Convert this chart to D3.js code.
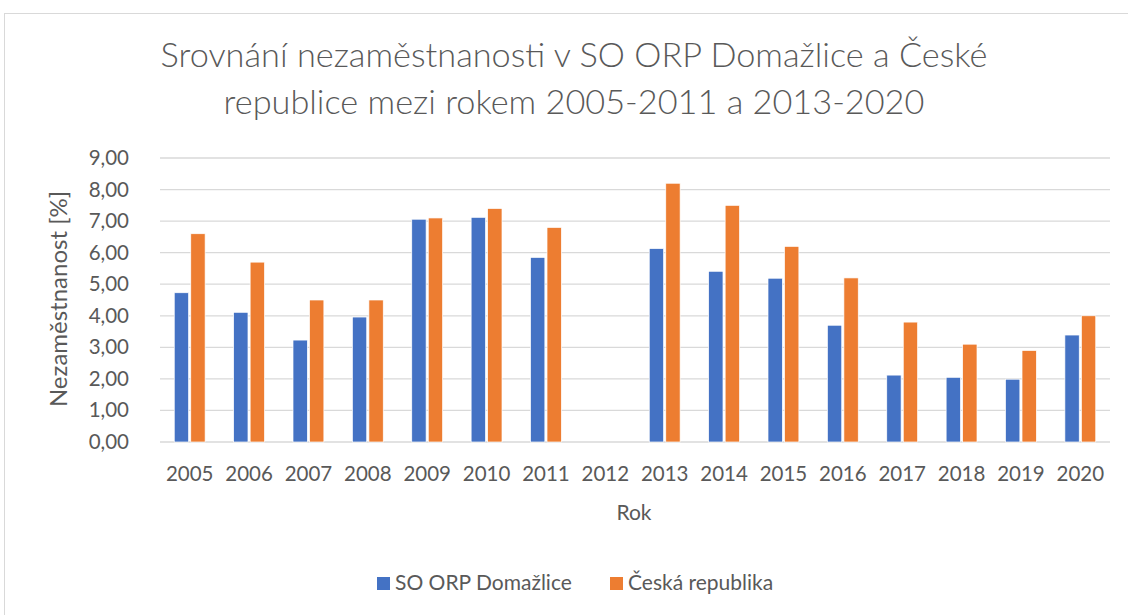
<!DOCTYPE html>
<html>
<head>
<meta charset="utf-8">
<script src="https://cdn.jsdelivr.net/npm/d3@7"></script>
<style>
  body { margin: 0; background: #fff; }
  svg { font-family: Lato, "Open Sans", sans-serif; }
</style>
</head>
<body>
<svg width="1128" height="615"></svg>
<script>
const years = ["2005","2006","2007","2008","2009","2010","2011","2012","2013","2014","2015","2016","2017","2018","2019","2020"];
const domazlice = [4.73, 4.11, 3.23, 3.96, 7.06, 7.12, 5.85, null, 6.13, 5.41, 5.19, 3.70, 2.12, 2.05, 1.99, 3.39];
const cr = [6.6, 5.7, 4.5, 4.5, 7.1, 7.4, 6.8, null, 8.2, 7.5, 6.2, 5.2, 3.8, 3.1, 2.9, 4.0];
const seriesNames = ["SO ORP Domažlice", "Česká republika"];
const colors = ["#4472C4", "#ED7D31"];
const yTicks = d3.range(0, 10);

const svg = d3.select("svg");
const width = +svg.attr("width");
const height = +svg.attr("height");

// chart frame
svg.append("rect")
  .attr("x", 4.5).attr("y", 13.5)
  .attr("width", width + 10).attr("height", height)
  .attr("fill", "#fff")
  .attr("stroke", "#d9d9d9");

const plotLeft = 160, plotRight = 1110, plotTop = 158, plotBottom = 442;

const x0 = d3.scaleBand()
  .domain(years)
  .range([plotLeft, plotRight])
  .paddingInner(0.48)
  .paddingOuter(0.24);

const x1 = d3.scaleBand()
  .domain([0, 1])
  .range([0, x0.bandwidth()])
  .paddingInner(0.13);

const y = d3.scaleLinear().domain([0, 9]).range([plotBottom, plotTop]);

// title
svg.append("text")
  .attr("text-anchor", "middle")
  .attr("fill", "#595959").attr("font-size", 34.3)
  .attr("font-weight", 300)
  .selectAll("tspan")
  .data(["Srovnání nezaměstnanosti v SO ORP Domažlice a České", "republice mezi rokem 2005-2011 a 2013-2020"])
  .join("tspan")
  .attr("x", 574)
  .attr("y", (d, i) => 67 + i * 47)
  .text(d => d);

// grid
svg.append("g")
  .selectAll("line")
  .data(yTicks)
  .join("line")
  .attr("x1", plotLeft).attr("x2", plotRight)
  .attr("y1", d => y(d)).attr("y2", d => y(d))
  .attr("stroke", "#d9d9d9")
  .attr("stroke-width", 1.3);

// y axis labels
const fmt = d => d3.format(".2f")(d).replace(".", ",");
svg.append("g")
  .selectAll("text")
  .data(yTicks)
  .join("text")
  .attr("x", 129)
  .attr("y", d => y(d) + 7)
  .attr("text-anchor", "end")
  .attr("font-size", 20.5)
  .attr("fill", "#595959")
  .text(fmt);

// bars
const series = [domazlice, cr];
series.forEach((vals, s) => {
  svg.append("g")
    .selectAll("rect")
    .data(years.map((yr, i) => ({ yr, v: vals[i] })).filter(d => d.v != null))
    .join("rect")
    .attr("x", d => x0(d.yr) + x1(s))
    .attr("y", d => y(d.v))
    .attr("width", x1.bandwidth())
    .attr("height", d => y(0) - y(d.v))
    .attr("fill", colors[s])
    .attr("stroke", "#fff")
    .attr("stroke-width", 0.7);
});

// x labels
svg.append("g")
  .selectAll("text")
  .data(years)
  .join("text")
  .attr("x", d => x0(d) + x0.bandwidth() / 2)
  .attr("y", 481)
  .attr("text-anchor", "middle")
  .attr("font-size", 20.5)
  .attr("fill", "#595959")
  .text(d => d);

// axis titles
svg.append("text")
  .attr("x", 634).attr("y", 520)
  .attr("text-anchor", "middle")
  .attr("font-size", 21)
  .attr("fill", "#595959")
  .text("Rok");

svg.append("text")
  .attr("transform", "translate(67,299) rotate(-90)")
  .attr("text-anchor", "middle")
  .attr("font-size", 24)
  .attr("fill", "#595959")
  .text("Nezaměstnanost [%]");

// legend
const legendX = [377, 610];
const leg = svg.append("g")
  .selectAll("g")
  .data(seriesNames)
  .join("g")
  .attr("transform", (d, i) => `translate(${legendX[i]},577)`);
leg.append("rect")
  .attr("width", 13).attr("height", 13)
  .attr("fill", (d, i) => colors[i]);
leg.append("text")
  .attr("x", 18).attr("y", 13)
  .attr("font-size", 21)
  .attr("fill", "#595959")
  .text(d => d);
</script>
</body>
</html>
